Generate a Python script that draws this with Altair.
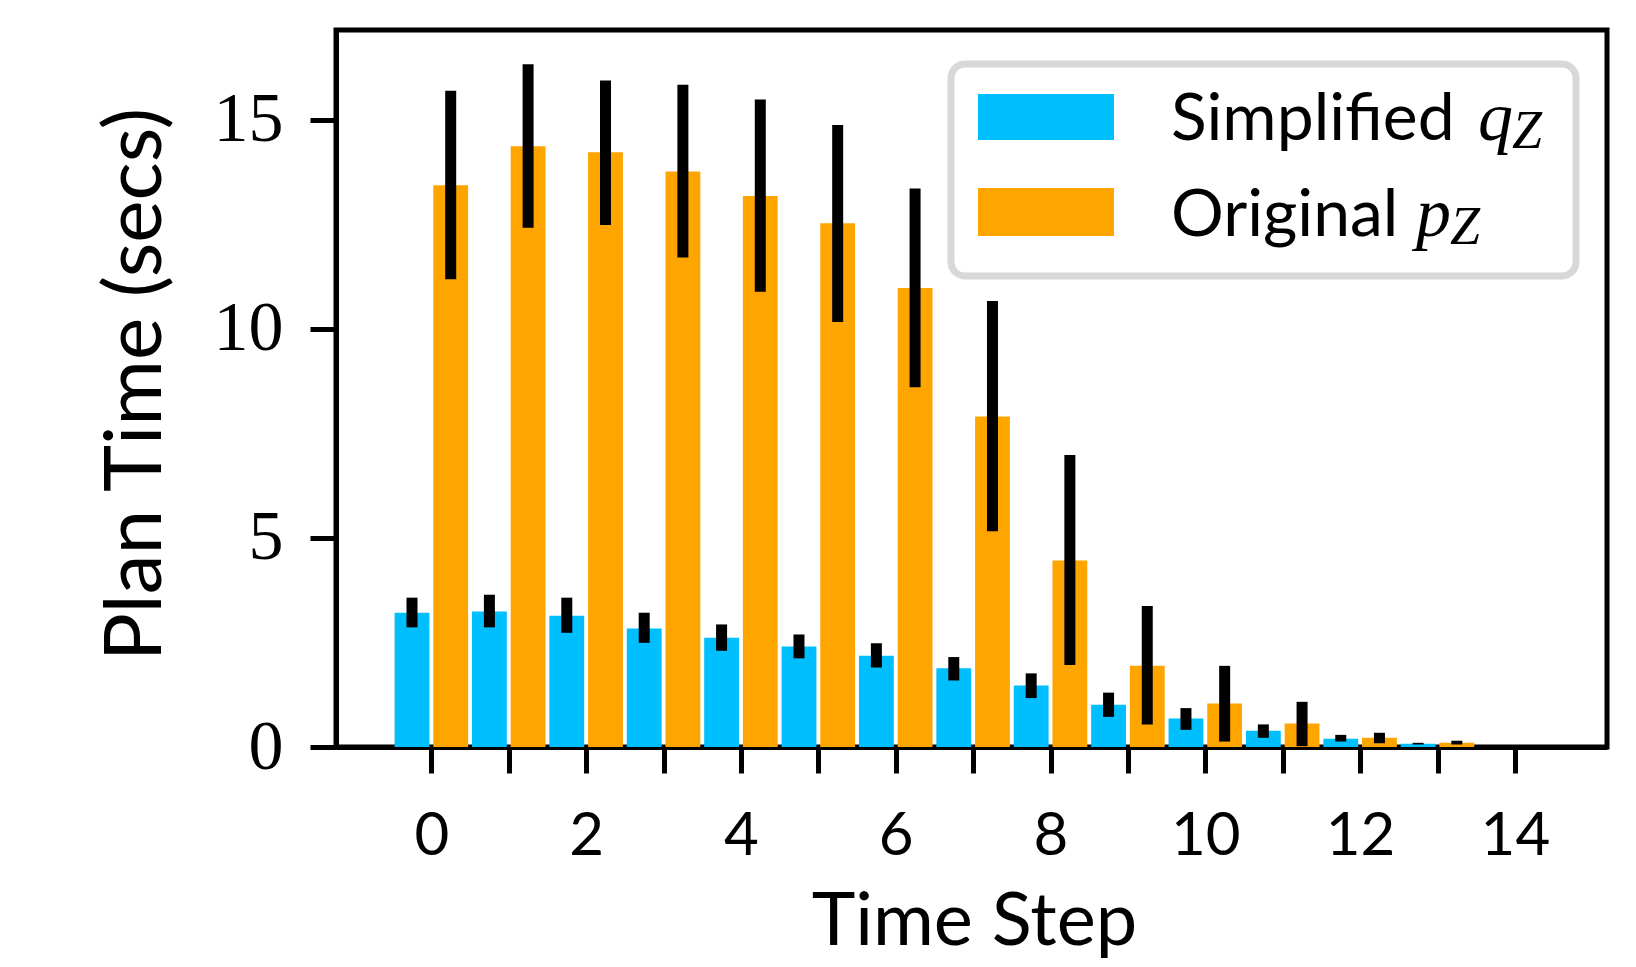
import altair as alt
import pandas as pd

# ---- data ----
steps = list(range(14))
simplified = [3.21, 3.24, 3.14, 2.83, 2.61, 2.40, 2.18, 1.88, 1.47, 1.01, 0.68, 0.39, 0.20, 0.08]
simplified_lo = [2.86, 2.86, 2.73, 2.49, 2.30, 2.12, 1.90, 1.59, 1.17, 0.72, 0.41, 0.22, 0.13, 0.06]
simplified_hi = [3.57, 3.64, 3.57, 3.21, 2.93, 2.69, 2.48, 2.15, 1.76, 1.30, 0.93, 0.54, 0.29, 0.10]
original = [13.43, 14.36, 14.22, 13.76, 13.17, 12.52, 10.97, 7.90, 4.46, 1.94, 1.04, 0.56, 0.22, 0.10]
original_lo = [11.18, 12.41, 12.48, 11.70, 10.88, 10.16, 8.60, 5.16, 1.96, 0.54, 0.13, 0.02, 0.09, 0.06]
original_hi = [15.69, 16.32, 15.93, 15.83, 15.48, 14.87, 13.35, 10.66, 6.98, 3.37, 1.94, 1.08, 0.34, 0.15]

series_names = ["Simplified", "Original"]
series_colors = ["#00BFFF", "#FFA500"]
series_offsets = [-0.25, 0.25]
legend_math = ["q", "p"]
legend_sub = "Z"
x_ticks = list(range(15))
y_ticks = [0, 5, 10, 15]

rows = []
for name, vals, los, his, off in [
    (series_names[0], simplified, simplified_lo, simplified_hi, series_offsets[0]),
    (series_names[1], original, original_lo, original_hi, series_offsets[1]),
]:
    for s, v, l, h in zip(steps, vals, los, his):
        rows.append(dict(step=s, series=name, value=v, lo=l, hi=h, off=off))
df = pd.DataFrame(rows)

W, H = 1271, 717
SANS = "Lato"
SERIF = "Liberation Serif"

xscale = alt.Scale(domain=[-1.232, 15.19], nice=False, zero=False)
yscale = alt.Scale(domain=[0, 17.14], nice=False, zero=False)
cscale = alt.Scale(domain=series_names, range=series_colors)

base = alt.Chart(df).transform_calculate(
    xc="datum.step + datum.off",
    x0="datum.step + datum.off - 0.225",
    x1="datum.step + datum.off + 0.225",
)

bars = base.mark_bar().encode(
    x=alt.X(
        "x0:Q",
        scale=xscale,
        axis=alt.Axis(
            values=x_ticks,
            format="d",
            labelExpr="datum.value % 2 == 0 ? datum.label : ''",
            title="Time Step",
            labelFont=SANS,
            labelFontSize=60,
            labelBaseline="alphabetic",
            labelPadding=81,
            labelOverlap=False,
            labelFlush=False,
            titleFont=SANS,
            titleFontSize=74,
            titleFontWeight="normal",
            titleX=638,
            titleY=197,
            titleBaseline="alphabetic",
            titleAlign="center",
        ),
    ),
    x2="x1:Q",
    y=alt.Y(
        "value:Q",
        scale=yscale,
        axis=alt.Axis(
            values=y_ticks,
            title="Plan Time (secs)",
            labelFont=SERIF,
            labelFontSize=70,
            labelPadding=27,
            labelOverlap=False,
            labelFlush=False,
            titleFont=SANS,
            titleFontSize=80,
            titleFontWeight="normal",
            titleAngle=270,
            titleX=-200,
            titleY=354,
            titleBaseline="middle",
            titleAlign="center",
        ),
    ),
    y2=alt.datum(0),
    color=alt.Color("series:N", scale=cscale, legend=None),
)

errs = base.mark_rule(strokeWidth=11, color="black", strokeCap="butt").encode(
    x="xc:Q", y="lo:Q", y2="hi:Q"
)

one = pd.DataFrame({"k": [0]})
legend_layers = [
    alt.Chart(one).mark_rect(fill="white", stroke="#d8d8d8", strokeWidth=7, cornerRadius=14).encode(
        x=alt.value(615), x2=alt.value(1240), y=alt.value(34), y2=alt.value(246)
    )
]
sw_y = [(64, 110), (158, 206)]
txt_base = [110, 206]
math_x = [1142, 1080]
sub_dx = [34, 34]
for i in range(2):
    legend_layers.append(
        alt.Chart(one).mark_rect(color=series_colors[i]).encode(
            x=alt.value(642), x2=alt.value(778), y=alt.value(sw_y[i][0]), y2=alt.value(sw_y[i][1])
        )
    )
    legend_layers.append(
        alt.Chart(one).mark_text(align="left", baseline="alphabetic", font=SANS, fontSize=66, color="black").encode(
            x=alt.value(835), y=alt.value(txt_base[i]), text=alt.value(series_names[i])
        )
    )
    legend_layers.append(
        alt.Chart(one).mark_text(align="left", baseline="alphabetic", font=SERIF, fontSize=70,
                                 fontStyle="italic", color="black").encode(
            x=alt.value(math_x[i]), y=alt.value(txt_base[i]), text=alt.value(legend_math[i])
        )
    )
    legend_layers.append(
        alt.Chart(one).mark_text(align="left", baseline="alphabetic", font=SERIF, fontSize=54,
                                 fontStyle="italic", color="black").encode(
            x=alt.value(math_x[i] + sub_dx[i]), y=alt.value(txt_base[i] + 8), text=alt.value(legend_sub)
        )
    )

chart = alt.layer(bars, errs, *legend_layers).properties(
    width=W,
    height=H,
    autosize=alt.AutoSizeParams(type="none"),
    padding={"left": 328, "top": 22, "right": 21, "bottom": 212},
    background="white",
).configure_view(
    stroke="black", strokeWidth=5
).configure_axis(
    grid=False,
    domain=True,
    domainColor="black",
    domainWidth=5,
    tickColor="black",
    tickWidth=5,
    tickSize=26,
    labelColor="black",
    titleColor="black",
    zindex=1,
)

chart.save("out.html", embed_options={"renderer": "svg", "actions": False})
